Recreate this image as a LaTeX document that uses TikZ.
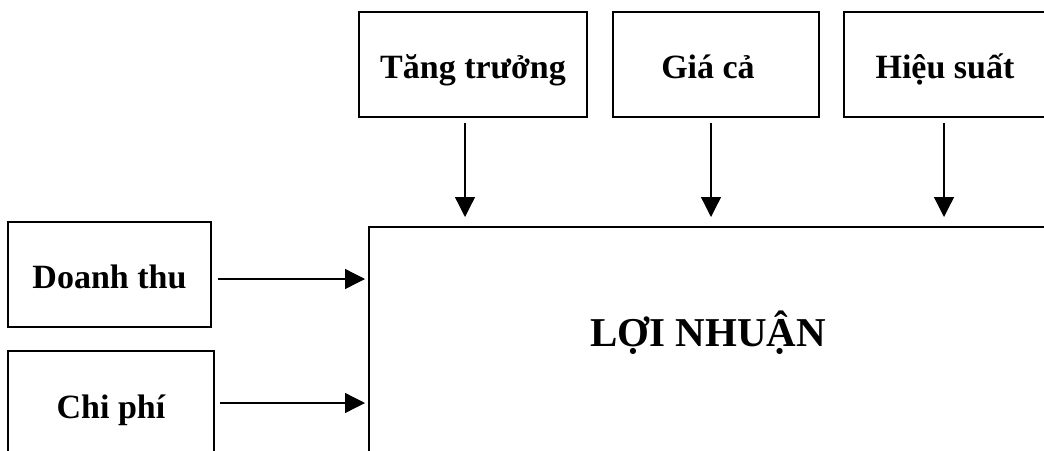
\documentclass[tikz,border=0pt]{standalone}
\usepackage{fontspec}
\setmainfont{Liberation Serif}
\usetikzlibrary{arrows.meta}

\tikzset{
  factor/.style={draw, line width=1.6pt, rectangle, inner sep=0pt,
    text height=31pt, text depth=4pt,
    font=\bfseries\fontsize{34}{40}\selectfont},
  arr/.style={line width=1.3pt, -{Triangle[length=20pt,width=20pt]}},
  title/.style={font=\bfseries\fontsize{41}{48}\selectfont, inner sep=0pt}
}

\begin{document}
\begin{tikzpicture}[x=1pt, y=-1pt]
  \clip (0,0) rectangle (1044,450);
  \useasboundingbox (0,0) rectangle (1044,450);

  % influencing factors on top
  \node[factor, minimum width=228pt, minimum height=105pt] (tang) at (473,64.5) {Tăng trưởng};
  \node[factor, minimum width=206pt, minimum height=105pt] (gia)  at (716,64.5) {\hspace*{-16pt}Giá cả};
  \node[factor, minimum width=202pt, minimum height=105pt] (hieu) at (945,64.5) {Hiệu suất};

  % inputs on the left
  \node[factor, minimum width=203pt, minimum height=105pt] (doanh) at (109.5,274.5) {Doanh thu};
  \node[factor, minimum width=206pt, minimum height=108pt] (chi)   at (111,405) {Chi phí};

  % profit block
  \node[draw, line width=1.6pt, rectangle, inner sep=0pt,
        minimum width=700pt, minimum height=260pt, anchor=north west] (profit) at (368,226) {};
  \node[title] (ptext) at (708,333) {LỢI NHUẬN};

  % vertical arrows
  \draw[arr, shorten <=5pt, shorten >=9pt]
    ([xshift=-8pt]tang.south) -- ([xshift=-8pt]tang.south |- profit.north);
  \draw[arr, shorten <=5pt, shorten >=9pt]
    ([xshift=-5pt]gia.south) -- ([xshift=-5pt]gia.south |- profit.north);
  \draw[arr, shorten <=5pt, shorten >=9pt]
    ([xshift=-1pt]hieu.south) -- ([xshift=-1pt]hieu.south |- profit.north);

  % horizontal arrows
  \draw[arr, shorten <=6pt, shorten >=3pt]
    ([yshift=-4.5pt]doanh.east) -- ([yshift=-4.5pt]doanh.east -| profit.west);
  \draw[arr, shorten <=5pt, shorten >=3pt]
    ([yshift=2pt]chi.east) -- ([yshift=2pt]chi.east -| profit.west);
\end{tikzpicture}
\end{document}
